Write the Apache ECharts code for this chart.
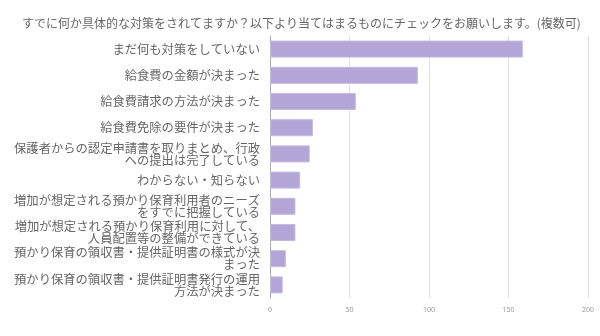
<!DOCTYPE html>
<html><head><meta charset="utf-8">
<script src="https://cdn.jsdelivr.net/npm/echarts@6/dist/echarts.min.js"></script>
<style>html,body{margin:0;padding:0;background:#fff}#c{width:600px;height:336px}</style>
</head><body><div id="c"></div>
<script>
var titleText = "すでに何か具体的な対策をされてますか？以下より当てはまるものにチェックをお願いします。(複数可)";
var categories = [
  "まだ何も対策をしていない",
  "給食費の金額が決まった",
  "給食費請求の方法が決まった",
  "給食費免除の要件が決まった",
  "保護者からの認定申請書を取りまとめ、行政\nへの提出は完了している",
  "わからない・知らない",
  "増加が想定される預かり保育利用者のニーズ\nをすでに把握している",
  "増加が想定される預かり保育利用に対して、\n人員配置等の整備ができている",
  "預かり保育の領収書・提供証明書の様式が決\nまった",
  "預かり保育の領収書・提供証明書発行の運用\n方法が決まった"
];
var values = [159, 93, 54, 27, 25, 19, 16, 16, 10, 8];
var xTicks = [0, 50, 100, 150, 200];

var chart = echarts.init(document.getElementById('c'), null, {renderer: 'canvas'});
chart.setOption({
  animation: false,
  backgroundColor: '#fff',
  title: {
    text: titleText, left: 17, top: 12,
    textStyle: {fontFamily: 'Noto Sans CJK JP', fontSize: 12, fontWeight: 'normal', color: '#666'}
  },
  grid: {left: 270, right: 12, top: 36, bottom: 38},
  xAxis: {
    type: 'value', min: xTicks[0], max: xTicks[xTicks.length - 1], interval: 50,
    axisLine: {show: false}, axisTick: {show: false},
    splitLine: {lineStyle: {color: '#e2e2e2', width: 1}},
    axisLabel: {fontSize: 7, color: '#999', margin: 8, fontFamily: 'Noto Sans'}
  },
  yAxis: {
    type: 'category', data: categories, inverse: true,
    axisLine: {show: true, lineStyle: {color: '#aaa', width: 1}},
    axisTick: {show: false},
    axisLabel: {fontFamily: 'Noto Sans CJK JP', fontSize: 12.3, color: '#666', margin: 10, lineHeight: 12}
  },
  series: [{
    type: 'bar', data: values, barCategoryGap: '35%',
    itemStyle: {color: '#b3a6d6', borderColor: '#c6bbe3', borderWidth: 1}
  }]
});
</script></body></html>
